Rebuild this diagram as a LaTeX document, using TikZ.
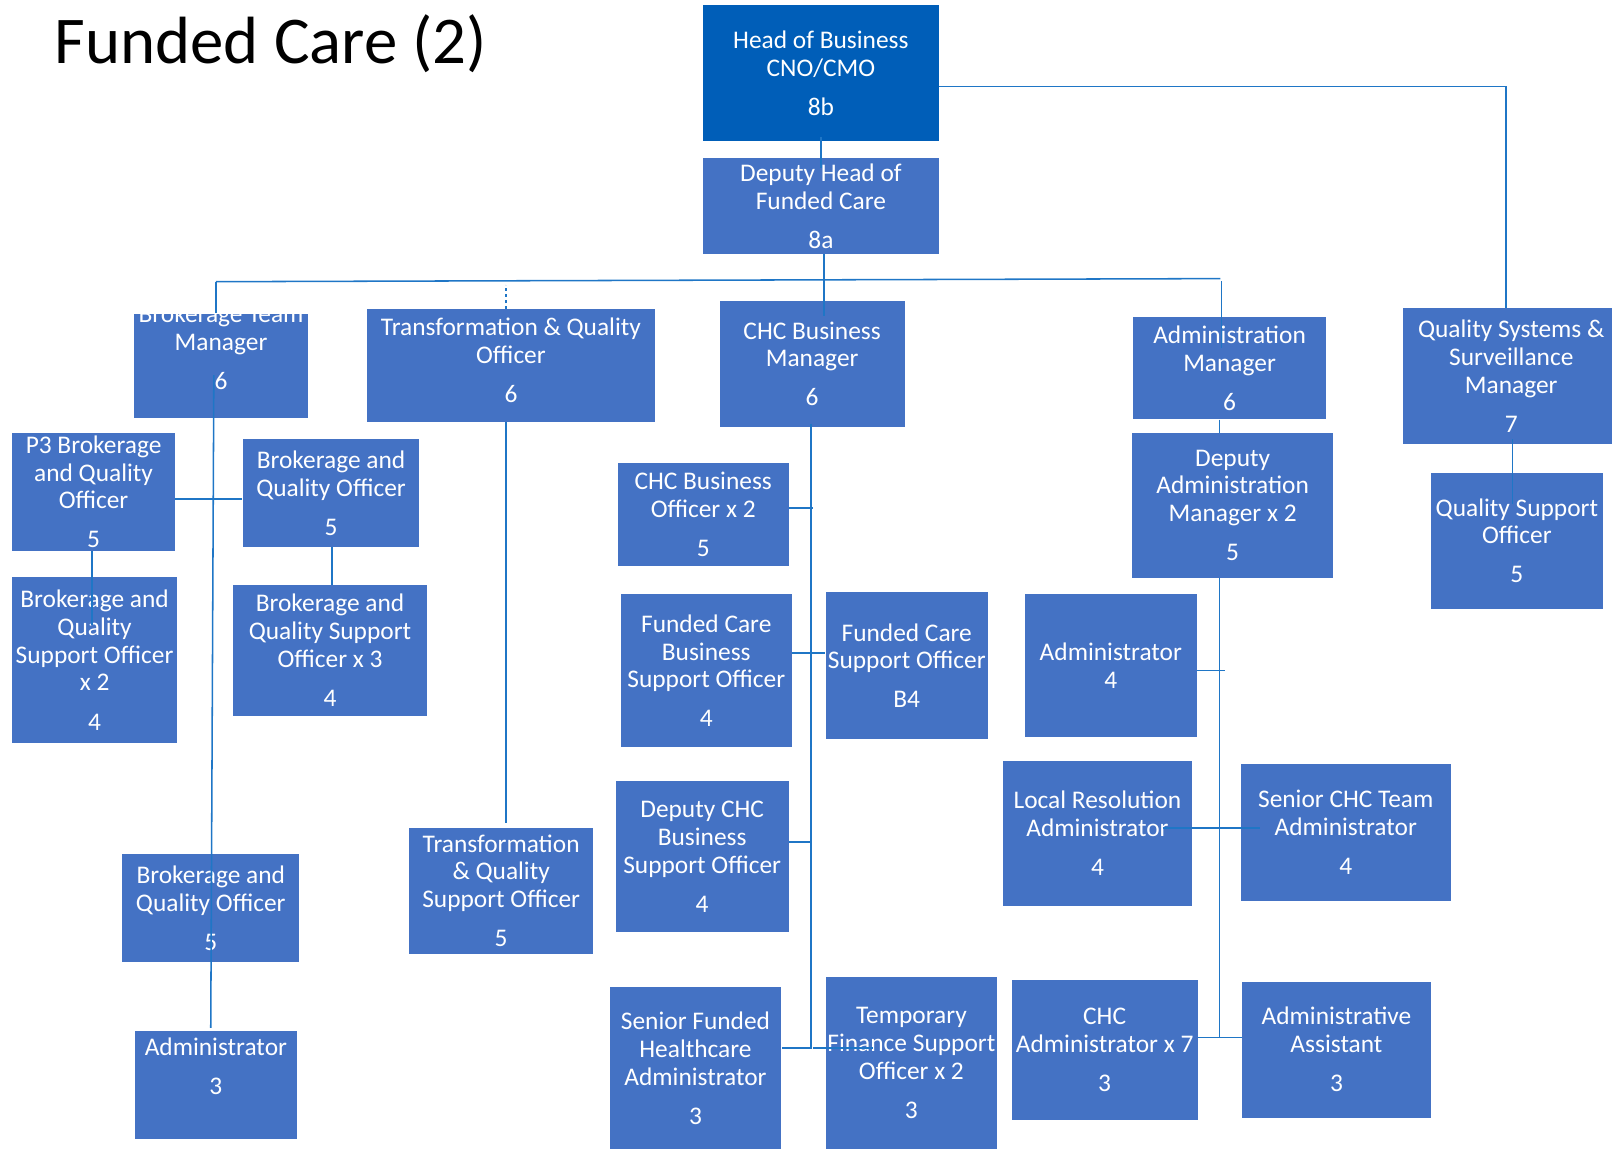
\documentclass[tikz,border=0pt]{standalone}
\usepackage{fontspec}
\setmainfont{Carlito}
\definecolor{postblue}{HTML}{4472C4}
\definecolor{headblue}{HTML}{005EB8}
\definecolor{linkblue}{HTML}{1F76C6}
\begin{document}
\begin{tikzpicture}
  [
  x=1pt, y=-1pt,
  posttext/.style={text=white, inner sep=0pt, align=center, font=\fontsize{24.7pt}{27pt}\selectfont},
  post/.style 2 args={rectangle, posttext, fill=postblue, minimum width=#1pt, minimum height=#2pt},
  headpost/.style 2 args={post={#1}{#2}, fill=headblue},
  link/.style={draw=linkblue, line width=1.5pt},
  ]

\clip (0,0) rectangle (1568,1119);

\node[anchor=base west, inner sep=0pt, font=\fontsize{65pt}{78pt}\selectfont] (title) at (53,62) {Funded Care (2)};

\node[headpost={229}{132}] (hob) at (798.5,71) {Head of Business\\CNO/CMO\\[11pt]8b};
\node[post={229}{93}] (dhfc) at (798.5,200.5) {Deputy Head of\\Funded Care\\[11pt]8a};

\node[post={170}{102}, path picture={
  \node[posttext] (btmtext) at ([yshift=18.5pt]path picture bounding box.center) {Brokerage Team\\Manager\\[11pt]6};
}] (btm) at (215,356) {};
\node[post={280}{109}, text depth=10pt] (tqo) at (497,355.5) {Transformation \& Quality\\Officer\\[11pt]6};
\node[post={180}{122}] (chcbm) at (790,354) {CHC Business\\Manager\\[11pt]6};
\node[post={188}{100}] (adm) at (1196,358) {Administration\\Manager\\[11pt]6};
\node[post={210}{132}] (qssm) at (1470,366) {Quality Systems \&\\Surveillance\\Manager\\[11pt]7};

\node[post={158}{115}] (p3) at (91,478.5) {P3 Brokerage\\and Quality\\Officer\\[11pt]5};
\node[post={172}{105}] (bqo1) at (322,479.5) {Brokerage and\\Quality Officer\\[11pt]5};
\node[post={160}{162}] (bqso2) at (92,642) {Brokerage and\\Quality\\Support Officer\\x 2\\[11pt]4};
\node[post={188}{127}] (bqso3) at (321,632.5) {Brokerage and\\Quality Support\\Officer x 3\\[11pt]4};
\node[post={172}{105}] (bqo2) at (205,883.5) {Brokerage and\\Quality Officer\\[11pt]5};
\node[post={158}{105}, text depth=37pt] (adm3) at (210,1055.5) {Administrator\\[11pt]3};
\node[post={179}{123}] (tqso) at (487.5,866.5) {Transformation\\\& Quality\\Support Officer\\[11pt]5};

\node[post={166}{101}] (chcbo) at (684,500.5) {CHC Business\\Officer x 2\\[11pt]5};
\node[post={166}{149}] (fcbso) at (687,652.5) {Funded Care\\Business\\Support Officer\\[11pt]4};
\node[post={158}{143}] (fcso) at (882,647.5) {Funded Care\\Support Officer\\[11pt]B4};
\node[post={168}{147}] (dchc) at (683,833.5) {Deputy CHC\\Business\\Support Officer\\[11pt]4};
\node[post={167}{158}] (sfha) at (676.5,1039) {Senior Funded\\Healthcare\\Administrator\\[11pt]3};
\node[post={167}{168}] (tfso) at (886.5,1034) {Temporary\\Finance Support\\Officer x 2\\[11pt]3};

\node[post={196}{141}] (dam) at (1199,491.5) {Deputy\\Administration\\Manager x 2\\[11pt]5};
\node[post={167}{132}] (qso) at (1475.5,526) {Quality Support\\Officer\\[11pt]5};
\node[post={167}{139}] (adm4) at (1080.5,647.5) {Administrator\\4};
\node[post={183}{141}] (lra) at (1067.5,810.5) {Local Resolution\\Administrator\\[11pt]4};
\node[post={204}{133}] (schc) at (1309,809.5) {Senior CHC Team\\Administrator\\[11pt]4};
\node[post={181}{136}] (chca) at (1074.5,1021) {CHC\\Administrator x 7\\[11pt]3};
\node[post={184}{132}] (aa) at (1300,1021) {Administrative\\Assistant\\[11pt]3};

\coordinate (busl) at (210,274);
\coordinate (busr) at (1187,271);
\coordinate (admspine) at (1186,1009);

\draw[link] ([yshift=4pt]hob.south) -- ([yshift=-10pt]dhfc.north);
\draw[link] ([yshift=-13pt]hob.east) -| ([xshift=-5pt]qssm.north);
\draw[link] (busl) -- (busr);
\draw[link] (busl) -- (busl |- btm.north);
\draw[link] ([xshift=3pt]dhfc.south) -- ([xshift=11.5pt,yshift=-15pt]chcbm.north);
\draw[link] ([xshift=-8pt,yshift=34pt]adm.north) -- ([xshift=-8pt,yshift=-31pt]adm.north);
\draw[link, dashed] ([xshift=-5pt]tqo.north) -- ([xshift=-5pt,yshift=24pt]tqo.north);
\draw[link] ([xshift=-5pt]tqo.south) -- ([xshift=4.5pt,yshift=4pt]tqso.north);
\draw[link] ([xshift=1pt,yshift=5pt]qssm.south) -- ([xshift=-4.5pt,yshift=-30pt]qso.north);

\draw[link] ([xshift=-7pt,yshift=-9pt]btm.center) -- ([xshift=-5pt,yshift=3pt]adm3.north);
\draw[link] ([yshift=-7pt]p3.east) -- ([yshift=-6pt]bqo1.west);
\draw[link] ([xshift=-1.5pt]p3.south) -- ([xshift=-2.5pt,yshift=-47pt]bqso2.north);
\draw[link] ([xshift=1pt]bqo1.south) -- ([xshift=2pt]bqso3.north);

\draw[link] ([xshift=-1pt,yshift=3pt]chcbm.south) |- ([yshift=19.5pt]sfha.east);
\draw[link] ([yshift=6.5pt]chcbo.east) -- ([xshift=24pt,yshift=6.5pt]chcbo.east);
\draw[link] ([yshift=17.5pt]fcbso.east) -- ([yshift=12.5pt]fcso.west);
\draw[link] ([yshift=14.5pt]dchc.east) -- ([xshift=22pt,yshift=14.5pt]dchc.east);
\draw[link] ([xshift=-12pt,yshift=14.5pt]tfso.west) -- ([xshift=46pt,yshift=14.5pt]tfso.west);

\draw[link] ([xshift=-10pt]adm.south) -- ([xshift=-13pt]dam.north);
\draw[link] ([xshift=-13pt]dam.south) -- (admspine);
\draw[link] ([yshift=-4.5pt]adm4.east) -- ([xshift=27pt,yshift=-4.5pt]adm4.east);
\draw[link] ([xshift=-28pt,yshift=5pt]lra.east) -- ([xshift=18.6pt,yshift=4pt]schc.west);
\draw[link] ([yshift=12pt]chca.east) -- ([yshift=12pt]aa.west);
\end{tikzpicture}
\end{document}
